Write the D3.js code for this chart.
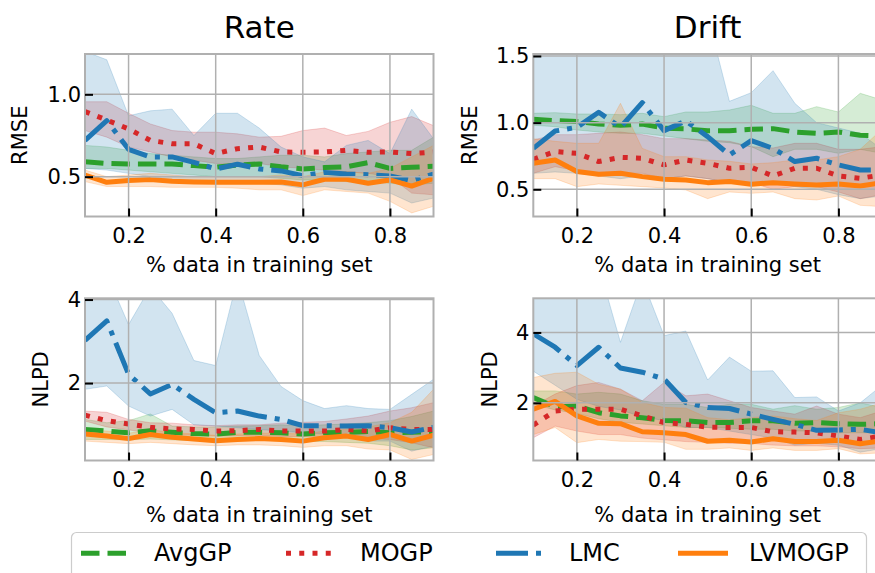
<!DOCTYPE html>
<html>
<head>
<meta charset="utf-8">
<script src="https://cdn.jsdelivr.net/npm/d3@7/dist/d3.min.js"></script>
<style>
  html, body { margin: 0; padding: 0; background: #fff; overflow: hidden; }
  svg { display: block; font-family: "DejaVu Sans", sans-serif; }
</style>
</head>
<body>
<svg id="chart" width="875" height="573"></svg>
<script>
// Fraction of data used for training (shared x values)
const fractions = [0.1, 0.15, 0.2, 0.25, 0.3, 0.35, 0.4, 0.45, 0.5, 0.55, 0.6, 0.65, 0.7, 0.75, 0.8, 0.85, 0.9];
const xTicks = [0.2, 0.4, 0.6, 0.8];
const methods = ["AvgGP", "MOGP", "LMC", "LVMOGP"];

// ---- Rate / RMSE ----
const rateRmseAvgMean = [0.59, 0.58, 0.577, 0.577, 0.577, 0.567, 0.557, 0.571, 0.577, 0.56, 0.547, 0.555, 0.56, 0.585, 0.55, 0.557, 0.563];
const rateRmseAvgLo   = [0.55, 0.55, 0.54, 0.53, 0.52, 0.51, 0.5, 0.5, 0.5, 0.49, 0.48, 0.48, 0.47, 0.47, 0.46, 0.45, 0.46];
const rateRmseAvgHi   = [0.69, 0.68, 0.66, 0.64, 0.63, 0.62, 0.61, 0.61, 0.62, 0.63, 0.63, 0.62, 0.64, 0.65, 0.66, 0.66, 0.74];
const rateRmseMogpMean = [0.895, 0.844, 0.79, 0.72, 0.70, 0.70, 0.64, 0.67, 0.68, 0.65, 0.648, 0.65, 0.66, 0.648, 0.65, 0.64, 0.65];
const rateRmseMogpLo   = [0.78, 0.74, 0.68, 0.65, 0.62, 0.6, 0.58, 0.58, 0.58, 0.56, 0.55, 0.54, 0.53, 0.52, 0.5, 0.4, 0.39];
const rateRmseMogpHi   = [0.955, 0.955, 0.885, 0.82, 0.78, 0.77, 0.77, 0.76, 0.74, 0.745, 0.78, 0.795, 0.75, 0.775, 0.83, 0.865, 0.81];
const rateRmseLmcMean = [0.72, 0.84, 0.666, 0.62, 0.62, 0.587, 0.547, 0.575, 0.547, 0.535, 0.506, 0.526, 0.516, 0.512, 0.504, 0.476, 0.516];
const rateRmseLmcLo   = [0.55, 0.54, 0.52, 0.5, 0.48, 0.47, 0.46, 0.47, 0.46, 0.45, 0.43, 0.44, 0.42, 0.41, 0.4, 0.34, 0.37];
const rateRmseLmcHi   = [1.26, 1.21, 0.87, 0.9, 0.91, 0.75, 0.885, 0.885, 0.795, 0.68, 0.62, 0.59, 0.69, 0.72, 0.64, 0.91, 0.73];
const rateRmseLvMean = [0.51, 0.466, 0.476, 0.482, 0.472, 0.468, 0.466, 0.466, 0.466, 0.468, 0.45, 0.484, 0.484, 0.46, 0.48, 0.443, 0.49];
const rateRmseLvLo   = [0.47, 0.44, 0.44, 0.44, 0.435, 0.435, 0.435, 0.43, 0.42, 0.42, 0.385, 0.42, 0.41, 0.4, 0.35, 0.28, 0.32];
const rateRmseLvHi   = [0.54, 0.5, 0.51, 0.52, 0.51, 0.5, 0.5, 0.5, 0.5, 0.51, 0.5, 0.53, 0.53, 0.52, 0.55, 0.62, 0.69];

// ---- Drift / RMSE ----
const driftRmseAvgMean = [1.025, 1.015, 1.008, 0.99, 0.98, 0.99, 0.958, 0.953, 0.94, 0.94, 0.95, 0.955, 0.93, 0.92, 0.93, 0.905, 0.9];
const driftRmseAvgLo   = [0.98, 0.97, 0.945, 0.93, 0.92, 0.92, 0.9, 0.88, 0.86, 0.85, 0.82, 0.745, 0.8, 0.8, 0.77, 0.8, 0.77];
const driftRmseAvgHi   = [1.07, 1.075, 1.065, 1.065, 1.06, 1.07, 1.045, 1.08, 1.08, 1.095, 1.13, 1.07, 1.07, 1.12, 1.08, 1.22, 1.17];
const driftRmseMogpMean = [0.725, 0.783, 0.77, 0.708, 0.74, 0.733, 0.683, 0.72, 0.695, 0.658, 0.665, 0.6, 0.658, 0.658, 0.6, 0.583, 0.608];
const driftRmseMogpLo   = [0.62, 0.67, 0.64, 0.6, 0.62, 0.62, 0.58, 0.6, 0.58, 0.55, 0.55, 0.5, 0.52, 0.52, 0.48, 0.43, 0.46];
const driftRmseMogpHi   = [0.87, 0.91, 0.91, 0.92, 0.93, 0.91, 0.88, 0.88, 0.87, 0.86, 0.82, 0.81, 0.845, 0.845, 0.8, 0.8, 0.82];
const driftRmseLmcMean = [0.807, 0.937, 0.965, 1.078, 0.965, 1.15, 0.94, 1.013, 0.895, 0.758, 0.865, 0.807, 0.708, 0.733, 0.683, 0.645, 0.645];
const driftRmseLmcLo   = [0.62, 0.63, 0.62, 0.6, 0.58, 0.6, 0.58, 0.6, 0.58, 0.55, 0.53, 0.55, 0.52, 0.5, 0.46, 0.43, 0.45];
const driftRmseLmcHi   = [1.9, 2.0, 2.1, 2.0, 2.2, 2.1, 1.9, 2.0, 1.8, 1.16, 1.225, 1.39, 1.145, 1.0, 0.96, 0.92, 0.8];
const driftRmseLvMean = [0.695, 0.72, 0.633, 0.613, 0.62, 0.595, 0.575, 0.57, 0.55, 0.558, 0.538, 0.55, 0.54, 0.533, 0.54, 0.525, 0.55];
const driftRmseLvLo   = [0.58, 0.58, 0.52, 0.54, 0.53, 0.52, 0.51, 0.495, 0.43, 0.48, 0.47, 0.48, 0.43, 0.42, 0.45, 0.38, 0.37];
const driftRmseLvHi   = [0.88, 0.86, 0.845, 0.845, 1.145, 0.807, 0.745, 0.745, 0.72, 0.71, 0.69, 0.7, 0.72, 0.72, 0.745, 0.8, 0.95];

// ---- Rate / NLPD ----
const rateNlpdAvgMean = [0.89, 0.85, 0.81, 0.86, 0.82, 0.79, 0.78, 0.82, 0.82, 0.81, 0.78, 0.81, 0.82, 0.84, 0.81, 0.82, 0.84];
const rateNlpdAvgLo   = [0.65, 0.65, 0.64, 0.66, 0.64, 0.62, 0.62, 0.63, 0.63, 0.62, 0.6, 0.6, 0.58, 0.56, 0.5, 0.4, 0.45];
const rateNlpdAvgHi   = [1.13, 1.05, 1.1, 1.26, 0.97, 0.95, 0.95, 0.97, 0.98, 1.0, 0.98, 1.0, 1.02, 1.05, 1.1, 1.2, 1.33];
const rateNlpdMogpMean = [1.23, 1.1, 1.02, 0.94, 0.9, 0.89, 0.85, 0.86, 0.89, 0.85, 0.85, 0.85, 0.89, 0.85, 0.93, 0.89, 0.89];
const rateNlpdMogpLo   = [1.09, 0.95, 0.88, 0.8, 0.76, 0.75, 0.73, 0.74, 0.75, 0.72, 0.72, 0.7, 0.7, 0.68, 0.65, 0.57, 0.45];
const rateNlpdMogpHi   = [1.33, 1.3, 1.13, 1.05, 1.04, 1.0, 0.98, 1.0, 1.0, 1.04, 1.06, 1.08, 1.14, 1.21, 1.33, 1.41, 1.53];
const rateNlpdLmcMean = [3.02, 3.49, 2.21, 1.74, 1.97, 1.61, 1.29, 1.33, 1.21, 1.13, 0.98, 0.98, 0.97, 0.98, 0.93, 0.83, 0.94];
const rateNlpdLmcLo   = [1.85, 1.93, 1.45, 1.21, 1.37, 1.0, 0.97, 0.93, 0.89, 0.85, 0.81, 0.78, 0.74, 0.61, 0.61, 0.37, 0.49];
const rateNlpdLmcHi   = [4.8, 4.6, 3.4, 4.3, 3.67, 2.54, 2.42, 4.5, 2.66, 1.92, 1.58, 1.39, 1.46, 1.39, 1.37, 1.73, 2.09];
const rateNlpdLvMean = [0.78, 0.73, 0.67, 0.77, 0.70, 0.66, 0.62, 0.65, 0.67, 0.65, 0.61, 0.69, 0.73, 0.65, 0.77, 0.61, 0.75];
const rateNlpdLvLo   = [0.61, 0.58, 0.55, 0.58, 0.55, 0.52, 0.5, 0.52, 0.52, 0.5, 0.46, 0.5, 0.5, 0.42, 0.4, 0.17, 0.29];
const rateNlpdLvHi   = [0.89, 0.85, 0.8, 0.88, 0.82, 0.78, 0.75, 0.78, 0.8, 0.8, 0.78, 0.85, 0.9, 0.95, 1.05, 1.3, 1.85];

// ---- Drift / NLPD ----
const driftNlpdAvgMean = [2.15, 1.89, 1.91, 1.72, 1.63, 1.58, 1.5, 1.49, 1.44, 1.44, 1.49, 1.49, 1.42, 1.44, 1.41, 1.39, 1.41];
const driftNlpdAvgLo   = [1.96, 1.8, 1.7, 1.55, 1.45, 1.4, 1.35, 1.3, 1.3, 1.28, 1.25, 1.25, 1.2, 1.2, 1.15, 1.15, 1.15];
const driftNlpdAvgHi   = [2.34, 2.34, 2.25, 2.3, 2.25, 2.06, 1.96, 1.96, 1.87, 1.96, 1.96, 1.82, 1.92, 1.82, 1.87, 2.0, 1.87];
const driftNlpdMogpMean = [1.37, 1.77, 1.82, 1.82, 1.82, 1.63, 1.44, 1.39, 1.31, 1.3, 1.3, 1.18, 1.17, 1.15, 1.06, 0.96, 1.06];
const driftNlpdMogpLo   = [1.01, 1.34, 1.2, 1.1, 1.1, 1.0, 0.95, 0.9, 0.88, 0.85, 0.85, 0.8, 0.78, 0.78, 0.75, 0.7, 0.72];
const driftNlpdMogpHi   = [1.91, 2.25, 2.49, 2.58, 2.39, 2.06, 2.58, 2.2, 2.25, 2.06, 1.87, 1.77, 1.68, 1.91, 1.68, 1.58, 1.77];
const driftNlpdLmcMean = [3.96, 3.58, 3.06, 3.58, 2.99, 2.87, 2.68, 2.01, 1.87, 1.84, 1.68, 1.53, 1.39, 1.22, 1.23, 1.25, 1.15];
const driftNlpdLmcLo   = [2.9, 2.5, 2.1, 1.9, 1.8, 1.6, 1.5, 1.3, 1.3, 1.2, 1.1, 1.0, 0.8, 0.85, 0.8, 0.6, 0.7];
const driftNlpdLmcHi   = [5.6, 5.8, 5.5, 5.9, 3.72, 5.5, 3.91, 4.04, 2.65, 3.3, 2.9, 2.91, 2.15, 2.17, 1.77, 2.0, 2.5];
const driftNlpdLvMean = [1.82, 2.04, 1.63, 1.42, 1.41, 1.18, 1.15, 1.1, 0.91, 0.94, 0.89, 0.98, 0.9, 0.9, 0.94, 0.84, 0.92];
const driftNlpdLvLo   = [1.1, 1.3, 0.87, 0.96, 0.91, 0.9, 0.88, 0.68, 0.68, 0.72, 0.65, 0.72, 0.65, 0.65, 0.7, 0.55, 0.58];
const driftNlpdLvHi   = [2.72, 2.84, 2.87, 2.53, 2.39, 2.01, 1.87, 1.85, 1.58, 1.52, 1.58, 1.63, 1.55, 1.5, 1.72, 1.82, 2.0];

// Y tick values per panel
const rmseRateTicks = [0.5, 1.0];
const rmseDriftTicks = [0.5, 1.0, 1.5];
const nlpdRateTicks = [2, 4];
const nlpdDriftTicks = [2, 4];

// ---- styling ----
const colors = { AvgGP: "#2ca02c", MOGP: "#d62728", LMC: "#1f77b4", LVMOGP: "#ff7f0e" };
const LW = 5;
const dashes = {
  AvgGP: [3.7 * LW, 1.6 * LW].join(","),
  MOGP: [1 * LW, 1.65 * LW].join(","),
  LMC: [6.4 * LW, 1.6 * LW, 1 * LW, 1.6 * LW].join(","),
  LVMOGP: null
};
const gridColor = "#b0b0b0";
const FONT_TICK = 21, FONT_LABEL = 21, FONT_TITLE = 31, FONT_LEGEND = 24;

const svg = d3.select("#chart");

const panels = [
  { id: "rr", box: [85, 54, 433.5, 216.5], ydom: [0.258, 1.245], yticks: rmseRateTicks, ylabel: "RMSE", ylabX: 27,
    series: {
      AvgGP: [rateRmseAvgMean, rateRmseAvgLo, rateRmseAvgHi],
      MOGP: [rateRmseMogpMean, rateRmseMogpLo, rateRmseMogpHi],
      LMC: [rateRmseLmcMean, rateRmseLmcLo, rateRmseLmcHi],
      LVMOGP: [rateRmseLvMean, rateRmseLvLo, rateRmseLvHi] },
    xlabY: 272, yfmt: d3.format(".1f") },
  { id: "dr", box: [533.3, 54, 882, 216.5], ydom: [0.296, 1.515], yticks: rmseDriftTicks, ylabel: "RMSE", ylabX: 477,
    series: {
      AvgGP: [driftRmseAvgMean, driftRmseAvgLo, driftRmseAvgHi],
      MOGP: [driftRmseMogpMean, driftRmseMogpLo, driftRmseMogpHi],
      LMC: [driftRmseLmcMean, driftRmseLmcLo, driftRmseLmcHi],
      LVMOGP: [driftRmseLvMean, driftRmseLvLo, driftRmseLvHi] },
    xlabY: 272, yfmt: d3.format(".1f") },
  { id: "rn", box: [85, 298.3, 433.5, 460.5], ydom: [0.146, 4.03], yticks: nlpdRateTicks, ylabel: "NLPD", ylabX: 48,
    series: {
      AvgGP: [rateNlpdAvgMean, rateNlpdAvgLo, rateNlpdAvgHi],
      MOGP: [rateNlpdMogpMean, rateNlpdMogpLo, rateNlpdMogpHi],
      LMC: [rateNlpdLmcMean, rateNlpdLmcLo, rateNlpdLmcHi],
      LVMOGP: [rateNlpdLvMean, rateNlpdLvLo, rateNlpdLvHi] },
    xlabY: 522, yfmt: d3.format("d") },
  { id: "dn", box: [533.3, 298.3, 882, 460.5], ydom: [0.363, 4.97], yticks: nlpdDriftTicks, ylabel: "NLPD", ylabX: 497,
    series: {
      AvgGP: [driftNlpdAvgMean, driftNlpdAvgLo, driftNlpdAvgHi],
      MOGP: [driftNlpdMogpMean, driftNlpdMogpLo, driftNlpdMogpHi],
      LMC: [driftNlpdLmcMean, driftNlpdLmcLo, driftNlpdLmcHi],
      LVMOGP: [driftNlpdLvMean, driftNlpdLvLo, driftNlpdLvHi] },
    xlabY: 522, yfmt: d3.format("d") }
];

const defs = svg.append("defs");

panels.forEach(p => {
  const [x0, y0, x1, y1] = p.box;
  const w = x1 - x0, h = y1 - y0;
  const x = d3.scaleLinear().domain([0.1, 0.9]).range([0, w]);
  const y = d3.scaleLinear().domain(p.ydom).range([h, 0]);
  const g = svg.append("g").attr("transform", `translate(${x0},${y0})`);

  defs.append("clipPath").attr("id", "clip-" + p.id)
    .append("rect").attr("x", 0).attr("y", 0).attr("width", w).attr("height", h);

  const plot = g.append("g").attr("clip-path", `url(#clip-${p.id})`);

  // shaded bands
  methods.forEach(m => {
    const [mean, lo, hi] = p.series[m];
    const pts = fractions.map((f, i) => ({ f, lo: lo[i], hi: hi[i] }));
    plot.append("path")
      .datum(pts)
      .attr("d", d3.area().x(d => x(d.f)).y0(d => y(d.lo)).y1(d => y(d.hi)))
      .attr("fill", colors[m]).attr("fill-opacity", 0.2)
      .attr("stroke", colors[m]).attr("stroke-opacity", 0.2).attr("stroke-width", 1);
  });

  // grid
  const grid = g.append("g");
  grid.selectAll("line.gx").data(xTicks).join("line")
    .attr("x1", d => x(d)).attr("x2", d => x(d)).attr("y1", 0).attr("y2", h)
    .attr("stroke", gridColor).attr("stroke-width", 1.5);
  grid.selectAll("line.gy").data(p.yticks).join("line")
    .attr("y1", d => y(d)).attr("y2", d => y(d)).attr("x1", 0).attr("x2", w)
    .attr("stroke", gridColor).attr("stroke-width", 1.5);

  // mean lines
  methods.forEach(m => {
    const [mean] = p.series[m];
    const pts = fractions.map((f, i) => ({ f, v: mean[i] }));
    const path = plot.append("path")
      .datum(pts)
      .attr("d", d3.line().x(d => x(d.f)).y(d => y(d.v)))
      .attr("fill", "none").attr("stroke", colors[m]).attr("stroke-width", LW)
      .attr("stroke-linejoin", "round");
    if (dashes[m]) path.attr("stroke-dasharray", dashes[m]).attr("stroke-linecap", "butt");
  });

  // spines
  g.append("rect").attr("x", 0).attr("y", 0).attr("width", w).attr("height", h)
    .attr("fill", "none").attr("stroke", gridColor).attr("stroke-width", 2);

  // axes (ticks point inward)
  const xAxis = g.append("g").attr("transform", `translate(0,${h})`)
    .call(d3.axisBottom(x).tickValues(xTicks).tickFormat(d3.format(".1f")).tickSize(-8).tickPadding(12));
  const yAxis = g.append("g")
    .call(d3.axisLeft(y).tickValues(p.yticks).tickFormat(p.yfmt).tickSize(-8).tickPadding(4));
  [xAxis, yAxis].forEach(a => {
    a.select(".domain").remove();
    a.selectAll(".tick line").attr("stroke", "#000").attr("stroke-width", 2);
    a.selectAll(".tick text").attr("fill", "#000").attr("font-size", FONT_TICK)
      .attr("font-family", "DejaVu Sans");
  });

  // axis labels
  svg.append("text")
    .attr("x", x0 + w / 2).attr("y", p.xlabY)
    .attr("text-anchor", "middle").attr("font-size", FONT_LABEL).attr("fill", "#000")
    .text("% data in training set");
  svg.append("text")
    .attr("transform", `translate(${p.ylabX},${y0 + h / 2}) rotate(-90)`)
    .attr("text-anchor", "middle").attr("font-size", FONT_LABEL).attr("fill", "#000")
    .text(p.ylabel);
});

// column titles
svg.append("text").attr("x", (85 + 433.5) / 2).attr("y", 37.5)
  .attr("text-anchor", "middle").attr("font-size", FONT_TITLE).attr("fill", "#000").text("Rate");
svg.append("text").attr("x", (533.3 + 882) / 2).attr("y", 37.5)
  .attr("text-anchor", "middle").attr("font-size", FONT_TITLE).attr("fill", "#000").text("Drift");

// legend
const legend = svg.append("g");
legend.append("rect")
  .attr("x", 71.5).attr("y", 532.5).attr("width", 795).attr("height", 60).attr("rx", 5)
  .attr("fill", "#fff").attr("fill-opacity", 0.8).attr("stroke", "#cccccc").attr("stroke-width", 1.2);
const handleX = [81, 286, 496, 678];
const textX = [154, 360, 569, 749];
methods.forEach((m, i) => {
  const ln = legend.append("line")
    .attr("x1", handleX[i]).attr("x2", handleX[i] + 50).attr("y1", 553.3).attr("y2", 553.3)
    .attr("stroke", colors[m]).attr("stroke-width", LW);
  if (dashes[m]) ln.attr("stroke-dasharray", dashes[m]);
  legend.append("text").attr("x", textX[i]).attr("y", 561)
    .attr("font-size", FONT_LEGEND).attr("fill", "#000").text(m);
});
</script>
</body>
</html>
